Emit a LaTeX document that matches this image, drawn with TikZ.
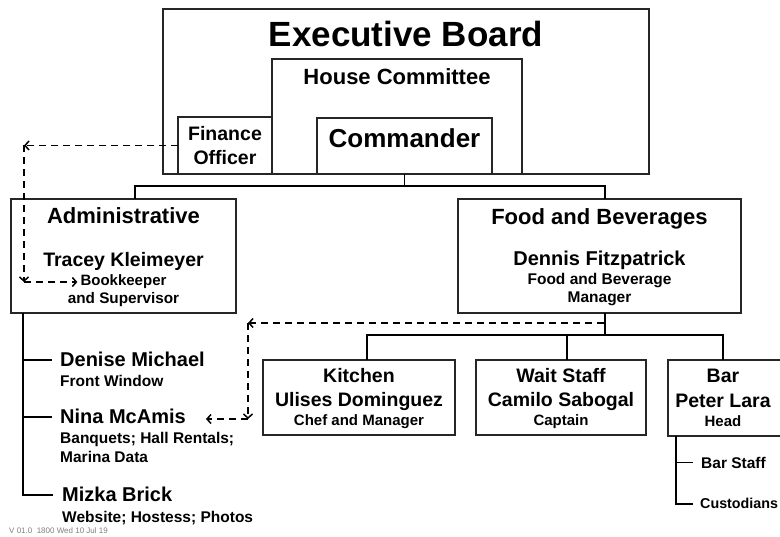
\documentclass[tikz,border=0pt]{standalone}
\usepackage{fontspec}
\setmainfont{Liberation Sans}
\usetikzlibrary{arrows.meta}
\tikzset{
  box/.style={draw=black!85, line width=1.4pt, inner sep=0pt, outer sep=0pt, anchor=north west},
  conn/.style={line width=1.9pt, black},
  dsh/.style={line width=1.7pt, black, dash pattern=on 7pt off 5pt, -{Straight Barb[length=4pt,width=9pt,line width=1.5pt]}},
  fs/.style={inner sep=0pt, anchor=base, font=\bfseries\fontsize{#1}{#1}\selectfont},
  fsl/.style={inner sep=0pt, anchor=base west, font=\bfseries\fontsize{#1}{#1}\selectfont},
}
\begin{document}
\begin{tikzpicture}[x=1pt,y=-1pt]
\useasboundingbox (0,0) rectangle (780,537);
\clip (0,0) rectangle (780,537);
\fill[white] (0,0) rectangle (780,537);

% top boxes
\node[box, minimum width=486pt, minimum height=165pt] (eb) at (163,9) {};
\node[box, minimum width=250pt, minimum height=115pt] (hc) at (272,59) {};
\node[box, minimum width=94pt, minimum height=57pt] (fo) at (178,117) {};
\node[box, minimum width=175pt, minimum height=56pt] (cmd) at (317,118) {};

\node[fs=35] (tEB) at (406,47) {Executive Board};
\node[fs=22] (tHC) at (397,85) {House Committee};
\node[fs=26] (tCmd) at (404.5,148) {Commander};
\node[fs=19.5] (tFin) at (225,141) {Finance};
\node[fs=19.5] (tOff) at (225,165) {Officer};

% second level
\node[box, minimum width=225pt, minimum height=114pt] (adm) at (11,199) {};
\node[box, minimum width=283pt, minimum height=114pt] (fb) at (458,199) {};

\node[fs=22] (tAdm) at (123.5,224) {Administrative};
\node[fs=19.5] (tTK) at (123.5,267) {Tracey Kleimeyer};
\node[fs=15] (bk) at (123.5,286) {Bookkeeper};
\node[fs=15.3] (tSup) at (123.5,304) {and Supervisor};

\node[fs=22] (tFB) at (599.5,225) {Food and Beverages};
\node[fs=20] (tDF) at (599.5,266) {Dennis Fitzpatrick};
\node[fs=15.5] (tFBM) at (599.5,285) {Food and Beverage};
\node[fs=15.5] (tMan) at (599.5,303) {Manager};

% third level
\node[box, minimum width=192pt, minimum height=75pt] (kit) at (263,360) {};
\node[box, minimum width=170pt, minimum height=75pt] (wait) at (476,360) {};
\node[box, minimum width=116pt, minimum height=76pt] (bar) at (668,360) {};

\node[fs=19.5] (tKit) at (359,383) {Kitchen};
\node[fs=19.5] (tUD) at (359,407) {Ulises Dominguez};
\node[fs=15] (tChef) at (359,426) {Chef and Manager};

\node[fs=19.5] (tWS) at (561,383) {Wait Staff};
\node[fs=19.5] (tCS) at (561,407) {Camilo Sabogal};
\node[fs=15] (tCap) at (561,426) {Captain};

\node[fs=19.5] (tBar) at (723,383) {Bar};
\node[fs=19.5] (tPL) at (723,408) {Peter Lara};
\node[fs=15] (tHead) at (723,427) {Head};

\node[fsl=15.5] (bs) at (701,468) {Bar Staff};
\node[fsl=14.3] (cu) at (700,509) {Custodians};

% admin staff
\node[fsl=20] (dm) at (60,367) {Denise Michael};
\node[fsl=15.5] (tFW) at (60,387) {Front Window};
\node[fsl=20] (nm) at (60,424) {Nina McAmis};
\node[fsl=15.5] (tBq) at (60,444) {Banquets; Hall Rentals;};
\node[fsl=15.5] (tMD) at (60,463) {Marina Data};
\node[fsl=20] (mb) at (62,502) {Mizka Brick};
\node[fsl=15.5] (tWeb) at (62,522) {Website; Hostess; Photos};

\node[inner sep=0pt, anchor=base west, text=black!50, font=\fontsize{8}{8}\selectfont] (ver) at (9,533) {V 01.0\ \ 1800 Wed 10 Jul 19};

% tree connectors
\coordinate (b1) at (0,186);
\coordinate (b2) at (605,335);
\draw[conn] (cmd.south) -- (cmd.south |- b1);
\draw[conn] ([xshift=11.5pt]adm.north) |- (b1 -| b2) -- ([xshift=5.5pt]fb.north);
\draw[conn] ([xshift=5.5pt]fb.south) -- (b2);
\draw[conn] ([xshift=8pt]kit.north) |- (b2) -| ([xshift=-3pt]bar.north);
\draw[conn] ([xshift=6pt]wait.north) -- ++(0,-25);

% admin subtree
\coordinate (a1) at (23,313);
\draw[conn] (a1) |- ([xshift=-9pt]mb.west);
\draw[conn] (a1 |- dm.west) -- ([xshift=-8pt]dm.west);
\draw[conn] (a1 |- nm.west) -- ([xshift=-8pt]nm.west);

% bar subtree
\draw[conn] ([xshift=-50pt]bar.south) |- ([xshift=-7pt]cu.west);
\draw[conn] ([xshift=-50pt]bar.south |- bs.west) -- ([xshift=-8pt]bs.west);

% dashed links
\coordinate (c1) at (24,145.5);
\coordinate (c2) at (24,282);
\draw[dsh] (fo.west) -- (c1);
\draw[dsh] (c1) -- (c2);
\draw[dsh] (c2) -- ([xshift=-3pt]bk.west |- c2);

\coordinate (d0) at (604,323);
\coordinate (d1) at (248,323);
\coordinate (d2) at (248,419);
\draw[dsh] (d0) -- (d1);
\draw[dsh] (d1) -- (d2);
\draw[dsh] (d2) -- ([xshift=20pt]nm.east |- d2);
\end{tikzpicture}
\end{document}
